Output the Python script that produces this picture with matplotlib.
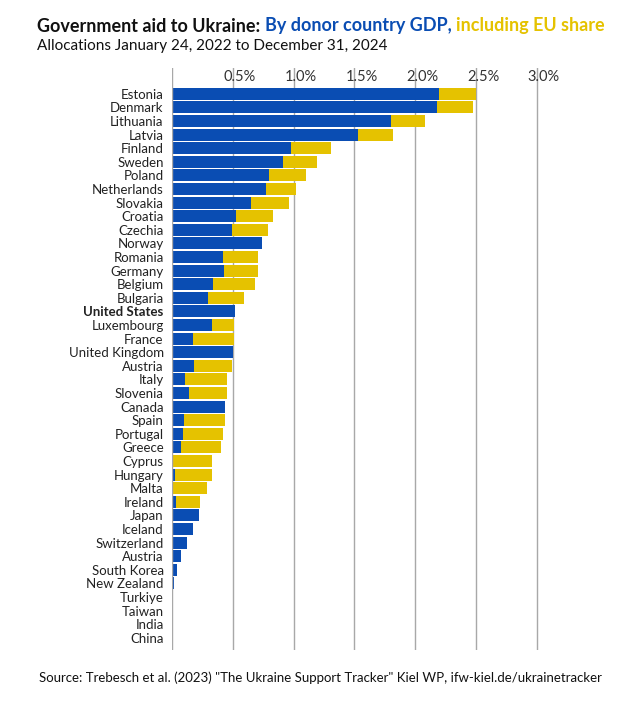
import matplotlib
matplotlib.use("Agg")
import matplotlib.pyplot as plt

countries = ["Estonia","Denmark","Lithuania","Latvia","Finland","Sweden","Poland","Netherlands",
 "Slovakia","Croatia","Czechia","Norway","Romania","Germany","Belgium","Bulgaria","United States",
 "Luxembourg","France","United Kingdom","Austria","Italy","Slovenia","Canada","Spain","Portugal",
 "Greece","Cyprus","Hungary","Malta","Ireland","Japan","Iceland","Switzerland","Austria",
 "South Korea","New Zealand","Turkiye","Taiwan","India","China"]
bilateral = [2.20,2.18,1.80,1.53,0.98,0.91,0.80,0.77,0.65,0.53,0.49,0.74,0.42,0.43,0.34,0.30,0.52,
 0.33,0.17,0.50,0.18,0.11,0.14,0.44,0.10,0.09,0.07,0.01,0.027,0.005,0.03,0.22,0.17,0.12,0.07,
 0.04,0.02,0.003,0.0,0.0,0.0]
total = [2.50,2.48,2.08,1.82,1.31,1.19,1.10,1.02,0.96,0.83,0.79,0.74,0.71,0.71,0.68,0.59,0.52,
 0.51,0.51,0.50,0.49,0.455,0.45,0.44,0.44,0.42,0.40,0.33,0.33,0.29,0.23,0.22,0.17,0.12,0.07,
 0.04,0.02,0.003,0.0,0.0,0.0]
eu_share = [t - b for t, b in zip(total, bilateral)]
ticks = [0.5,1.0,1.5,2.0,2.5,3.0]
tick_labels = ["0.5%","1.0%","1.5%","2.0%","2.5%","3.0%"]

BLUE = "#0a4db3"
YELLOW = "#e5c200"
FONT = "Lato"
plt.rcParams["font.family"] = FONT

fig = plt.figure(figsize=(6.4, 7.01), dpi=100)
ax = fig.add_axes([172/640, 1-650/701, (561-172)/640, (650-68)/701])
y = list(range(len(countries)))
ax.barh(y, bilateral, height=0.88, color=BLUE, zorder=1)
ax.barh(y, eu_share, left=bilateral, height=0.88, color=YELLOW, zorder=1)
ax.set_xlim(0, 3.2)
ax.set_ylim(40.9, -1.9)
for t in [0] + ticks:
    ax.axvline(t, color="#a8a8a8", lw=1, zorder=2 if t < 1e-9 else 0.5)
for t, l in zip(ticks, tick_labels):
    ax.text(t + 0.06, -1.25, l, ha="center", va="center", fontsize=10.5, color="#333333")
for s in ax.spines.values():
    s.set_visible(False)
ax.set_xticks([])
ax.set_yticks(y)
ax.set_yticklabels(countries, fontsize=9.5, color="#222222")
ax.tick_params(axis="y", length=0, pad=6)
for lab in ax.get_yticklabels():
    if lab.get_text() == "United States":
        lab.set_fontweight("bold")

# Title with mixed colours
fig.canvas.draw()
r = fig.canvas.get_renderer()
x0 = 37/640
parts = [("Government aid to Ukraine: ", "#111111"), ("By donor country GDP, ", BLUE),
         ("including EU share", YELLOW)]
xpos = x0
for txt, c in parts:
    t = fig.text(xpos, 1-26/701, txt, fontsize=13, fontweight="bold", color=c, va="center", ha="left")
    bb = t.get_window_extent(renderer=r)
    xpos = (bb.x1) / fig.bbox.width
fig.text(x0, 1-46/701, "Allocations January 24, 2022 to December 31, 2024", fontsize=11,
         color="#111111", va="center")
fig.text(0.5, 1-678/701, 'Source: Trebesch et al. (2023) "The Ukraine Support Tracker" Kiel WP, ifw-kiel.de/ukrainetracker',
         fontsize=9.5, color="#111111", ha="center", va="center")
fig.savefig("out.png", dpi=100)
